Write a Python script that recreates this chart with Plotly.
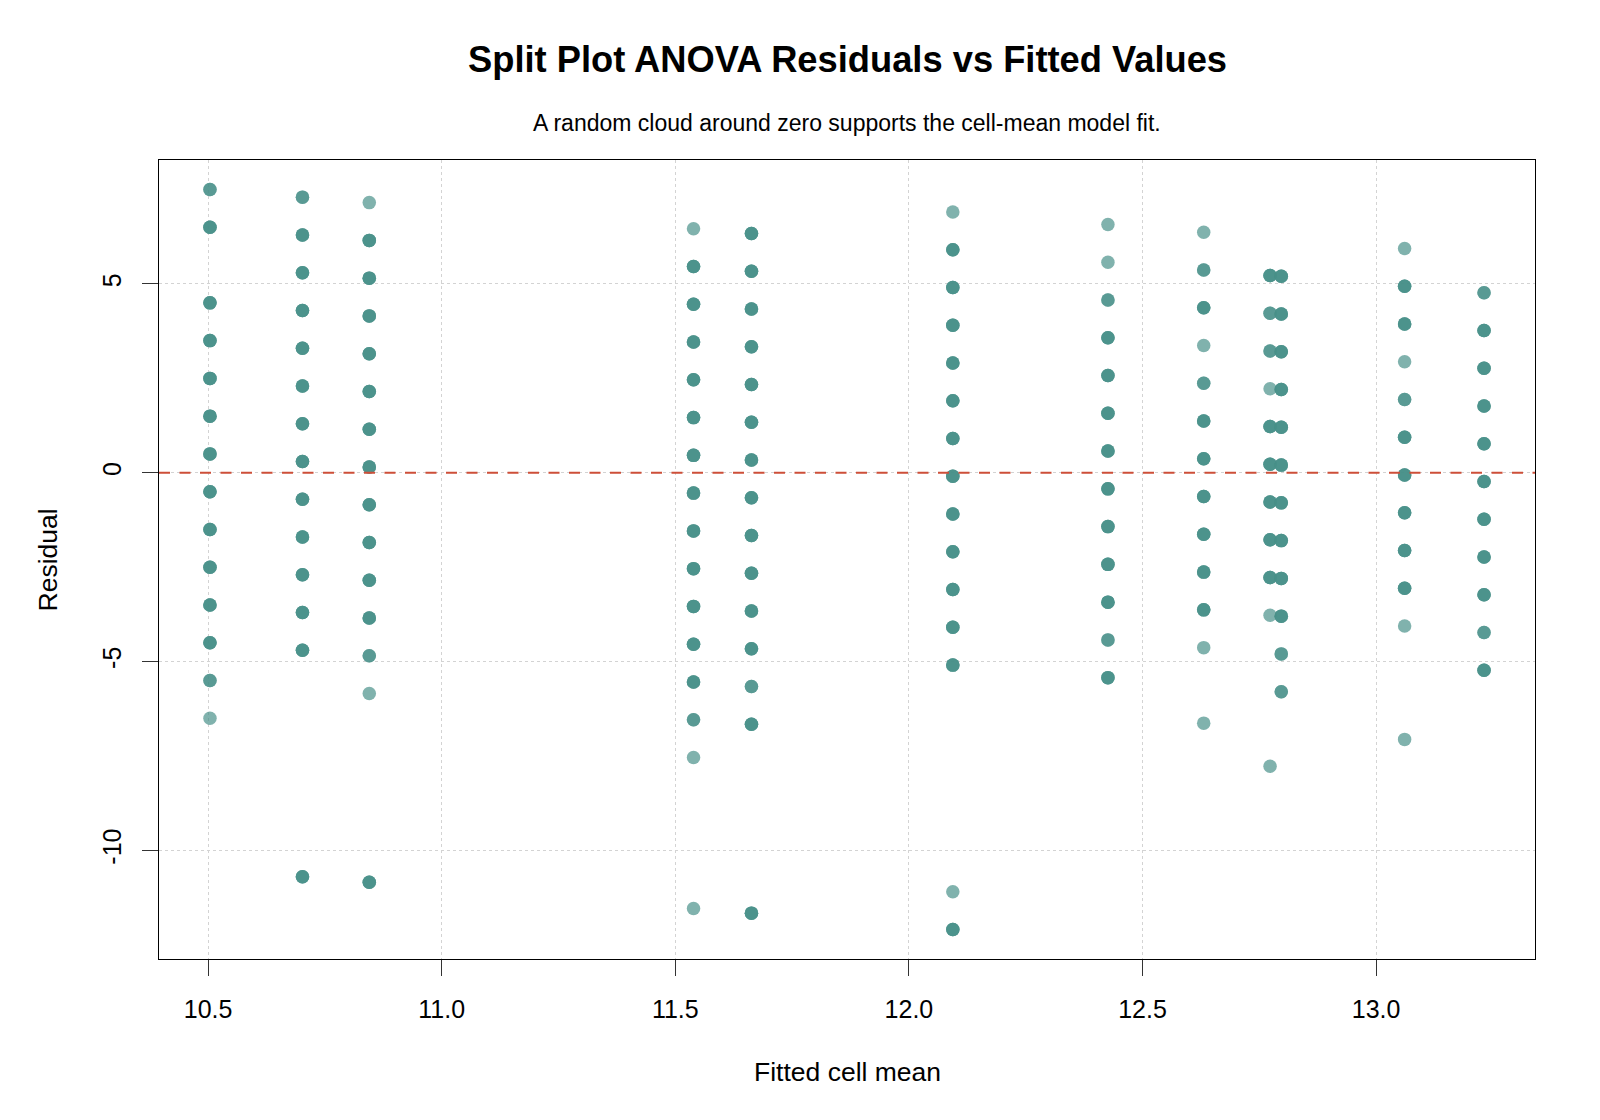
import plotly.graph_objects as go

# ---- data ----
# fitted cell mean for each of the 12 cells
fitted = [10.504, 10.702, 10.845, 11.539, 11.663, 12.094,
          12.426, 12.631, 12.773, 12.797, 13.061, 13.231]

# residual levels per cell and how many observations sit on each level
res_c1 = [7.5, 6.5, 4.5, 3.5, 2.5, 1.5, 0.5, -0.5, -1.5, -2.5, -3.5, -4.5, -5.5, -6.5]
cnt_c1 = [2, 3, 3, 3, 3, 3, 3, 3, 3, 3, 3, 3, 2, 1]
res_c2 = [7.3, 6.3, 5.3, 4.3, 3.3, 2.3, 1.3, 0.3, -0.7, -1.7, -2.7, -3.7, -4.7, -10.7]
cnt_c2 = [2, 3, 3, 3, 3, 3, 3, 3, 3, 3, 3, 3, 3, 3]
res_c3 = [7.155, 6.155, 5.155, 4.155, 3.155, 2.155, 1.155, 0.155, -0.845, -1.845,
          -2.845, -3.845, -4.845, -5.845, -10.845]
cnt_c3 = [1, 3, 3, 3, 3, 3, 3, 3, 3, 3, 3, 3, 2, 1, 3]
res_c4 = [6.461, 5.461, 4.461, 3.461, 2.461, 1.461, 0.461, -0.539, -1.539, -2.539,
          -3.539, -4.539, -5.539, -6.539, -7.539, -11.539]
cnt_c4 = [1, 3, 3, 3, 3, 3, 3, 3, 3, 3, 3, 3, 3, 2, 1, 1]
res_c5 = [6.337, 5.337, 4.337, 3.337, 2.337, 1.337, 0.337, -0.663, -1.663, -2.663,
          -3.663, -4.663, -5.663, -6.663, -11.663]
cnt_c5 = [3, 3, 3, 3, 3, 3, 3, 3, 3, 3, 3, 3, 2, 3, 3]
res_c6 = [6.906, 5.906, 4.906, 3.906, 2.906, 1.906, 0.906, -0.094, -1.094, -2.094,
          -3.094, -4.094, -5.094, -11.094, -12.094]
cnt_c6 = [1, 3, 3, 3, 3, 3, 3, 3, 3, 3, 3, 3, 3, 1, 3]
res_c7 = [6.574, 5.574, 4.574, 3.574, 2.574, 1.574, 0.574, -0.426, -1.426, -2.426,
          -3.426, -4.426, -5.426]
cnt_c7 = [1, 1, 2, 3, 3, 3, 3, 3, 3, 3, 3, 2, 3]
res_c8 = [6.369, 5.369, 4.369, 3.369, 2.369, 1.369, 0.369, -0.631, -1.631, -2.631,
          -3.631, -4.631, -6.631]
cnt_c8 = [1, 2, 3, 1, 2, 3, 3, 3, 3, 3, 3, 1, 1]
res_c9 = [5.227, 4.227, 3.227, 2.227, 1.227, 0.227, -0.773, -1.773, -2.773, -3.773, -7.773]
cnt_c9 = [3, 2, 2, 1, 3, 3, 3, 3, 3, 1, 1]
res_c10 = [5.203, 4.203, 3.203, 2.203, 1.203, 0.203, -0.797, -1.797, -2.797, -3.797,
           -4.797, -5.797]
cnt_c10 = [3, 3, 3, 3, 3, 3, 3, 3, 3, 3, 2, 2]
res_c11 = [5.939, 4.939, 3.939, 2.939, 1.939, 0.939, -0.061, -1.061, -2.061, -3.061,
           -4.061, -7.061]
cnt_c11 = [1, 3, 3, 1, 2, 3, 3, 3, 3, 3, 1, 1]
res_c12 = [4.769, 3.769, 2.769, 1.769, 0.769, -0.231, -1.231, -2.231, -3.231, -4.231, -5.231]
cnt_c12 = [2, 3, 3, 3, 3, 3, 3, 3, 3, 2, 3]

residuals = [res_c1, res_c2, res_c3, res_c4, res_c5, res_c6,
             res_c7, res_c8, res_c9, res_c10, res_c11, res_c12]
counts = [cnt_c1, cnt_c2, cnt_c3, cnt_c4, cnt_c5, cnt_c6,
          cnt_c7, cnt_c8, cnt_c9, cnt_c10, cnt_c11, cnt_c12]

x_ticks = [10.5, 11.0, 11.5, 12.0, 12.5, 13.0]
x_tick_text = ["10.5", "11.0", "11.5", "12.0", "12.5", "13.0"]
y_ticks = [-10, -5, 0, 5]
y_tick_text = ["-10", "-5", "0", "5"]

title = "Split Plot ANOVA Residuals vs Fitted Values"
subtitle = "A random cloud around zero supports the cell-mean model fit."
x_label = "Fitted cell mean"
y_label = "Residual"

# ---- expand to observations ----
xs, ys = [], []
for f, rl, cl in zip(fitted, residuals, counts):
    for r, c in zip(rl, cl):
        for _ in range(c):
            xs.append(f)
            ys.append(r)

def r_range(vals):
    lo, hi = min(vals), max(vals)
    d = (hi - lo) * 0.04
    return [lo - d, hi + d]

xr = r_range(xs)
yr = r_range(ys)

FONT = "Liberation Sans, Arial, sans-serif"

# plot area in pixels
L, R, T, B = 159, 1535, 160, 959
W, H = 1600, 1120

def px_x(p):
    return (p - L) / (R - L)

def px_y(p):
    return (B - p) / (B - T)

fig = go.Figure()
fig.add_trace(go.Scatter(
    x=xs, y=ys, mode="markers",
    marker=dict(size=13.5, color="rgba(71,143,136,0.69)", line=dict(width=0)),
    showlegend=False, hoverinfo="x+y",
))

fig.add_shape(type="line", xref="paper", x0=0, x1=1, yref="y", y0=0, y1=0,
              line=dict(color="#CD4F39", width=2, dash="11px,9.5px"), layer="above")

axis_common = dict(
    showline=True, linecolor="#000000", linewidth=1, mirror=True,
    ticks="outside", ticklen=16, tickcolor="#333333", tickwidth=1,
    showgrid=True, gridcolor="#d3d3d3", gridwidth=1, griddash="dot",
    zeroline=False,
    tickfont=dict(family=FONT, size=25, color="#000000"),
)

fig.update_xaxes(range=xr, tickvals=x_ticks, ticktext=x_tick_text,
                 ticklabelstandoff=12, **axis_common)
fig.update_yaxes(range=yr, tickvals=y_ticks, ticktext=y_tick_text,
                 tickangle=-90, ticklabelstandoff=11, **axis_common)

annotations = [
    dict(text="<b>" + title + "</b>", x=0.5, y=px_y(59), xref="paper", yref="paper",
         xanchor="center", yanchor="middle", showarrow=False,
         font=dict(family=FONT, size=36.3, color="#000000")),
    dict(text=subtitle, x=0.5, y=px_y(123.5), xref="paper", yref="paper",
         xanchor="center", yanchor="middle", showarrow=False,
         font=dict(family=FONT, size=23, color="#000000")),
    dict(text=x_label, x=0.5, y=px_y(1072), xref="paper", yref="paper",
         xanchor="center", yanchor="middle", showarrow=False,
         font=dict(family=FONT, size=26.5, color="#000000")),
    dict(text=y_label, x=px_x(47), y=0.5, xref="paper", yref="paper",
         xanchor="center", yanchor="middle", showarrow=False, textangle=-90,
         font=dict(family=FONT, size=26.5, color="#000000")),
]

fig.update_layout(
    width=W, height=H,
    margin=dict(l=L, r=W - R, t=T, b=H - B, pad=0),
    paper_bgcolor="white", plot_bgcolor="white",
    annotations=annotations,
    font=dict(family=FONT),
)

fig.write_html("out.html")
